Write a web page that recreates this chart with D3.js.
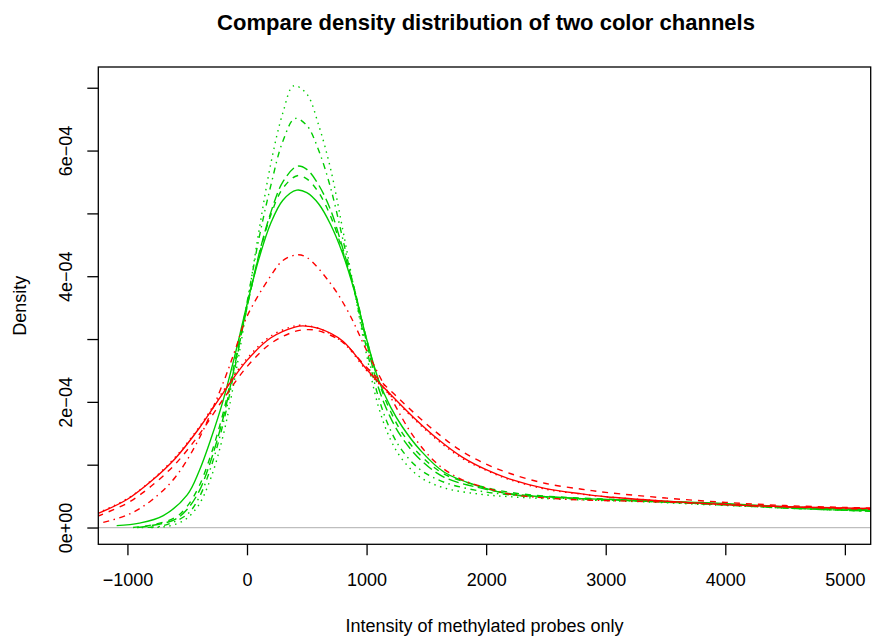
<!DOCTYPE html>
<html>
<head>
<meta charset="utf-8">
<script src="https://cdn.jsdelivr.net/npm/d3@7"></script>
<style>
  body { margin: 0; background: #fff; }
  svg { display: block; font-family: "Liberation Sans", Arial, sans-serif; }
</style>
</head>
<body>
<svg id="chart" width="874" height="640"></svg>
<script>
// density values are read in units of 1e-4, pairs are [intensity, density]
const UNIT = 1e-4;

const greenSolid = [[-1090,0.03],[-900,0.07],[-700,0.19],[-500,0.52],[-400,0.9],[-300,1.42],[-200,2.02],[-100,2.75],[0,3.55],[100,4.28],[200,4.85],[300,5.21],[416,5.37],[500,5.33],[600,5.15],[700,4.82],[800,4.36],[900,3.75],[1000,3.0],[1100,2.35],[1200,1.92],[1300,1.6],[1450,1.23],[1650,0.88],[1950,0.65],[2200,0.53],[2500,0.49],[2800,0.46],[3300,0.43],[3900,0.39],[4500,0.33],[5216,0.28]];
const greenDashed = [[-953,0.0],[-800,0.04],[-600,0.16],[-500,0.34],[-400,0.66],[-300,1.17],[-200,1.82],[-100,2.65],[0,3.52],[100,4.33],[200,4.98],[300,5.4],[420,5.6],[500,5.55],[600,5.33],[700,4.95],[800,4.4],[900,3.78],[1000,3.0],[1100,2.33],[1200,1.85],[1300,1.5],[1450,1.15],[1650,0.85],[1950,0.66],[2200,0.56],[2500,0.5],[2800,0.47],[3300,0.43],[3900,0.38],[4500,0.32],[5216,0.27]];
const greenLongdash = [[-920,0.0],[-800,0.03],[-600,0.13],[-500,0.29],[-400,0.58],[-300,1.08],[-200,1.74],[-100,2.6],[0,3.5],[100,4.35],[200,5.02],[300,5.5],[420,5.75],[500,5.7],[600,5.45],[700,5.05],[800,4.45],[900,3.78],[1000,2.95],[1100,2.22],[1200,1.75],[1300,1.42],[1450,1.08],[1650,0.8],[1950,0.63],[2200,0.54],[2500,0.49],[2800,0.46],[3300,0.42],[3900,0.37],[4500,0.31],[5216,0.26]];
const greenDotdash = [[-880,0.0],[-700,0.03],[-500,0.21],[-400,0.48],[-300,0.97],[-200,1.65],[-100,2.55],[0,3.58],[100,4.6],[200,5.45],[300,6.15],[401,6.51],[500,6.4],[600,6.0],[700,5.4],[800,4.6],[900,3.75],[1000,2.85],[1100,2.07],[1200,1.55],[1300,1.22],[1450,0.92],[1650,0.72],[1950,0.58],[2200,0.52],[2500,0.48],[2800,0.45],[3300,0.42],[3900,0.37],[4500,0.31],[5216,0.26]];
const greenDotted = [[-800,0.0],[-700,0.01],[-600,0.05],[-500,0.15],[-400,0.37],[-300,0.8],[-200,1.46],[-100,2.4],[0,3.52],[100,4.72],[200,5.8],[300,6.6],[390,7.03],[500,6.9],[600,6.4],[700,5.7],[800,4.75],[900,3.75],[1000,2.75],[1100,1.92],[1200,1.4],[1300,1.08],[1450,0.8],[1650,0.63],[1950,0.53],[2200,0.49],[2500,0.46],[2800,0.44],[3300,0.41],[3900,0.36],[4500,0.31],[5216,0.26]];

const redSolid = [[-1250,0.22],[-1000,0.45],[-800,0.74],[-600,1.1],[-400,1.58],[-200,2.14],[0,2.66],[200,3.02],[400,3.19],[468,3.21],[600,3.17],[800,2.97],[1000,2.52],[1200,2.12],[1400,1.74],[1600,1.4],[1800,1.12],[2000,0.92],[2200,0.77],[2500,0.62],[2800,0.535],[3000,0.49],[3500,0.42],[4000,0.365],[4500,0.33],[5000,0.31],[5250,0.305]];
const redDashed = [[-1250,0.18],[-1000,0.39],[-800,0.66],[-600,1.01],[-400,1.48],[-200,2.04],[0,2.56],[200,2.93],[400,3.12],[500,3.15],[600,3.13],[800,2.95],[1000,2.55],[1200,2.18],[1400,1.82],[1600,1.49],[1800,1.21],[2000,1.01],[2200,0.86],[2500,0.7],[2800,0.61],[3000,0.56],[3500,0.47],[4000,0.4],[4500,0.35],[5000,0.32],[5250,0.31]];
const redDotted = [[-1250,0.23],[-1000,0.46],[-800,0.75],[-600,1.12],[-400,1.6],[-200,2.17],[0,2.69],[200,3.05],[400,3.21],[450,3.22],[600,3.17],[800,2.95],[1000,2.5],[1200,2.1],[1400,1.72],[1600,1.38],[1800,1.1],[2000,0.91],[2200,0.76],[2500,0.61],[2800,0.53],[3000,0.49],[3500,0.42],[4000,0.36],[4500,0.33],[5000,0.31],[5250,0.3]];
const redDotdash = [[-1250,0.06],[-1000,0.2],[-800,0.43],[-600,0.8],[-400,1.42],[-200,2.3],[-100,2.82],[0,3.36],[200,4.01],[300,4.25],[416,4.34],[500,4.3],[700,3.88],[850,3.42],[1000,2.82],[1200,2.08],[1400,1.43],[1600,1.0],[1800,0.76],[2000,0.63],[2200,0.53],[2500,0.47],[2800,0.44],[3200,0.42],[3600,0.4],[4000,0.37],[4500,0.33],[5000,0.3],[5250,0.29]];

const xTicks = [-1000, 0, 1000, 2000, 3000, 4000, 5000];
const yTicks = [0, 1e-4, 2e-4, 3e-4, 4e-4, 5e-4, 6e-4, 7e-4];
const yTickLabels = ["0e+00", "", "2e-04", "", "4e-04", "", "6e-04", ""];

const titleText = "Compare density distribution of two color channels";
const xLabel = "Intensity of methylated probes only";
const yLabel = "Density";

// R line types, scaled for the 1.5x device
const dash = {
  solid: null,
  dashed: "6,6",
  dotted: "1.5,4.5",
  dotdash: "1.5,4.5,6,4.5",
  longdash: "10.5,4.5"
};

const series = [
  { data: greenSolid, color: "#00cd00", lty: "solid" },
  { data: greenDashed, color: "#00cd00", lty: "dashed" },
  { data: greenDotted, color: "#00cd00", lty: "dotted" },
  { data: greenDotdash, color: "#00cd00", lty: "dotdash" },
  { data: greenLongdash, color: "#00cd00", lty: "longdash" },
  { data: redSolid, color: "#ff0000", lty: "solid" },
  { data: redDashed, color: "#ff0000", lty: "dashed" },
  { data: redDotted, color: "#ff0000", lty: "dotted" },
  { data: redDotdash, color: "#ff0000", lty: "dotdash" }
];

const plotLeft = 98.3, plotRight = 870.7, plotTop = 67, plotBottom = 544.3;

const x = d3.scaleLinear().domain([-1243.6, 5216]).range([plotLeft, plotRight]);
const y = d3.scaleLinear().domain([-0.267e-4, 7.33e-4]).range([plotBottom, plotTop]);

const svg = d3.select("#chart");

svg.append("rect").attr("width", 874).attr("height", 640).attr("fill", "#fff");

svg.append("clipPath").attr("id", "plotclip")
  .append("rect")
  .attr("x", plotLeft).attr("y", plotTop)
  .attr("width", plotRight - plotLeft).attr("height", plotBottom - plotTop);

// zero line
svg.append("line")
  .attr("x1", plotLeft).attr("x2", plotRight)
  .attr("y1", y(0)).attr("y2", y(0))
  .attr("stroke", "#bebebe")
  .attr("stroke-width", 1.2);

const line = d3.line()
  .x(d => x(d[0]))
  .y(d => y(d[1] * UNIT))
  .curve(d3.curveCatmullRom.alpha(0.5));

const g = svg.append("g").attr("clip-path", "url(#plotclip)");

g.selectAll(".density")
  .data(series)
  .enter()
  .append("path")
  .attr("class", "density")
  .attr("d", d => line(d.data))
  .attr("fill", "none")
  .attr("stroke", d => d.color)
  .attr("stroke-width", 1.4)
  .attr("stroke-dasharray", d => dash[d.lty]);

// box
svg.append("rect")
  .attr("x", plotLeft).attr("y", plotTop)
  .attr("width", plotRight - plotLeft).attr("height", plotBottom - plotTop)
  .attr("fill", "none")
  .attr("stroke", "#000")
  .attr("stroke-width", 1.3);

const xAxis = d3.axisBottom(x).tickValues(xTicks).tickSize(11).tickFormat(d3.format("d"));
const gx = svg.append("g")
  .attr("transform", `translate(0,${plotBottom})`)
  .call(xAxis);
gx.select(".domain").remove();
gx.selectAll(".tick line").attr("stroke", "#000").attr("stroke-width", 1.3);
gx.selectAll(".tick text")
  .attr("y", 42).attr("dy", 0)
  .attr("fill", "#000")
  .style("font-size", "18px")
  .style("font-family", "'Liberation Sans', Arial, sans-serif")
  .text(d => d < 0 ? "\u2212" + Math.abs(d) : d);

const yAxis = d3.axisLeft(y).tickValues(yTicks).tickSize(11).tickFormat((d, i) => yTickLabels[i]);
const gy = svg.append("g")
  .attr("transform", `translate(${plotLeft},0)`)
  .call(yAxis);
gy.select(".domain").remove();
gy.selectAll(".tick line").attr("stroke", "#000").attr("stroke-width", 1.3);
gy.selectAll(".tick text")
  .attr("transform", "rotate(-90)")
  .attr("x", 0).attr("y", -26.3).attr("dy", 0)
  .attr("text-anchor", "middle")
  .attr("fill", "#000")
  .style("font-size", "18px")
  .style("font-family", "'Liberation Sans', Arial, sans-serif")
  .text((d, i) => yTickLabels[i].replace("-", "\u2212"));

svg.append("text")
  .attr("x", 486).attr("y", 29.5)
  .attr("text-anchor", "middle")
  .attr("font-weight", "bold")
  .attr("font-size", 22)
  .text(titleText);

svg.append("text")
  .attr("x", (plotLeft + plotRight) / 2).attr("y", 632)
  .attr("text-anchor", "middle")
  .attr("font-size", 18)
  .text(xLabel);

svg.append("text")
  .attr("transform", `translate(26,${(plotTop + plotBottom) / 2}) rotate(-90)`)
  .attr("text-anchor", "middle")
  .attr("font-size", 18)
  .text(yLabel);
</script>
</body>
</html>
